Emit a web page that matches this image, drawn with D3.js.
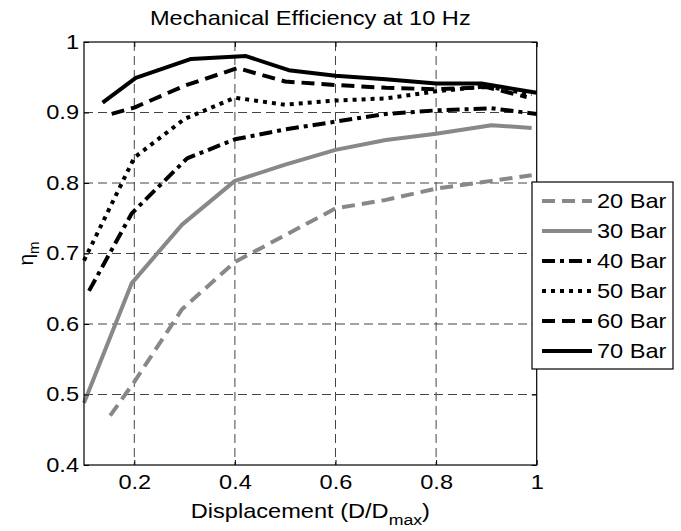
<!DOCTYPE html>
<html>
<head>
<meta charset="utf-8">
<script src="https://cdn.jsdelivr.net/npm/d3@7"></script>
<style>
  body { margin: 0; background: #fff; }
  svg text { font-family: "Liberation Sans", Arial, sans-serif; fill: #000; }
  .wide { transform-box: fill-box; transform: scaleX(1.18); }
  .wide-mid { transform-origin: center; }
  .wide-start { transform-origin: left center; }
  .wide-end { transform-origin: right center; }
</style>
</head>
<body>
<div id="chart"></div>
<script>
// Data
const seriesNames = ["20 Bar", "30 Bar", "40 Bar", "50 Bar", "60 Bar", "70 Bar"];

const x20 = [0.152, 0.2, 0.295, 0.4, 0.5, 0.6, 0.7, 0.8, 0.91, 0.99];
const y20 = [0.470, 0.518, 0.621, 0.688, 0.726, 0.764, 0.776, 0.792, 0.803, 0.811];

const x30 = [0.1, 0.195, 0.295, 0.4, 0.5, 0.6, 0.7, 0.8, 0.91, 0.99];
const y30 = [0.488, 0.658, 0.741, 0.803, 0.826, 0.847, 0.861, 0.870, 0.882, 0.878];

const x40 = [0.11, 0.195, 0.305, 0.4, 0.5, 0.6, 0.7, 0.8, 0.91, 1.0];
const y40 = [0.647, 0.757, 0.835, 0.862, 0.876, 0.887, 0.898, 0.903, 0.906, 0.898];

const x50 = [0.1, 0.2, 0.3, 0.4, 0.5, 0.6, 0.7, 0.8, 0.9, 0.99];
const y50 = [0.690, 0.836, 0.891, 0.921, 0.911, 0.917, 0.920, 0.930, 0.937, 0.926];

const x60 = [0.155, 0.2, 0.3, 0.405, 0.5, 0.6, 0.7, 0.8, 0.9, 0.98];
const y60 = [0.898, 0.907, 0.938, 0.963, 0.944, 0.939, 0.935, 0.933, 0.936, 0.922];

const x70 = [0.137, 0.203, 0.313, 0.422, 0.507, 0.6, 0.7, 0.8, 0.89, 1.0];
const y70 = [0.914, 0.949, 0.976, 0.980, 0.960, 0.952, 0.947, 0.941, 0.941, 0.928];

const xTicks = [0.2, 0.4, 0.6, 0.8, 1];
const xTickLabels = ["0.2", "0.4", "0.6", "0.8", "1"];
const yTicks = [0.4, 0.5, 0.6, 0.7, 0.8, 0.9, 1];
const yTickLabels = ["0.4", "0.5", "0.6", "0.7", "0.8", "0.9", "1"];

// line styles per series
const styles = {
  "20 Bar": { color: "#888888", dash: "13,7" },
  "30 Bar": { color: "#888888", dash: null },
  "40 Bar": { color: "#000000", dash: "13,5,4,5" },
  "50 Bar": { color: "#000000", dash: "4,5" },
  "60 Bar": { color: "#000000", dash: "13,7" },
  "70 Bar": { color: "#000000", dash: null }
};

const series = [
  { name: seriesNames[0], xs: x20, ys: y20 },
  { name: seriesNames[1], xs: x30, ys: y30 },
  { name: seriesNames[2], xs: x40, ys: y40 },
  { name: seriesNames[3], xs: x50, ys: y50 },
  { name: seriesNames[4], xs: x60, ys: y60 },
  { name: seriesNames[5], xs: x70, ys: y70 }
];

const width = 681, height = 531;
const margin = { top: 42, right: 144.3, bottom: 66, left: 84 };
const innerW = width - margin.left - margin.right;
const innerH = height - margin.top - margin.bottom;

const svg = d3.select("#chart").append("svg")
  .attr("width", width)
  .attr("height", height);

const g = svg.append("g")
  .attr("transform", `translate(${margin.left},${margin.top})`);

const x = d3.scaleLinear().domain([0.1, 1]).range([0, innerW]);
const y = d3.scaleLinear().domain([0.4, 1]).range([innerH, 0]);

// grid lines
g.append("g").selectAll("line")
  .data(xTicks.filter(d => d < 1))
  .join("line")
  .attr("x1", d => x(d)).attr("x2", d => x(d))
  .attr("y1", 0).attr("y2", innerH)
  .attr("stroke", "#444").attr("stroke-width", 1)
  .attr("stroke-dasharray", "9,5");

g.append("g").selectAll("line")
  .data(yTicks.filter(d => d > 0.4 && d < 1))
  .join("line")
  .attr("x1", 0).attr("x2", innerW)
  .attr("y1", d => y(d)).attr("y2", d => y(d))
  .attr("stroke", "#444").attr("stroke-width", 1)
  .attr("stroke-dasharray", "9,5");

// series lines
const line = d3.line()
  .x(d => x(d[0]))
  .y(d => y(d[1]));

g.append("g").selectAll("path")
  .data(series)
  .join("path")
  .attr("d", s => line(s.xs.map((v, i) => [v, s.ys[i]])))
  .attr("fill", "none")
  .attr("stroke", s => styles[s.name].color)
  .attr("stroke-width", 4)
  .attr("stroke-dasharray", s => styles[s.name].dash)
  .attr("stroke-linejoin", "round");

// axes
const xAxis = g.append("g")
  .attr("transform", `translate(0,${innerH})`)
  .call(d3.axisBottom(x).tickValues(xTicks)
    .tickFormat((d, i) => xTickLabels[i])
    .tickSizeInner(-5).tickSizeOuter(0).tickPadding(10));

const yAxis = g.append("g")
  .call(d3.axisLeft(y).tickValues(yTicks)
    .tickFormat((d, i) => yTickLabels[i])
    .tickSizeInner(-5).tickSizeOuter(0).tickPadding(5));

// top and right ticks
g.append("g")
  .call(d3.axisTop(x).tickValues(xTicks).tickFormat("")
    .tickSizeInner(-5).tickSizeOuter(0));
g.append("g")
  .attr("transform", `translate(${innerW},0)`)
  .call(d3.axisRight(y).tickValues(yTicks).tickFormat("")
    .tickSizeInner(-5).tickSizeOuter(0));

g.selectAll(".domain").remove();
g.selectAll(".tick line").attr("stroke", "#000");

xAxis.selectAll("text")
  .style("font-size", "20px")
  .attr("class", "wide wide-mid");
yAxis.selectAll("text")
  .style("font-size", "20px")
  .attr("class", "wide wide-end");

// frame
g.append("rect")
  .attr("width", innerW).attr("height", innerH)
  .attr("fill", "none").attr("stroke", "#000").attr("stroke-width", 1.2);

// title
svg.append("text")
  .attr("class", "wide wide-mid")
  .attr("x", margin.left + innerW / 2)
  .attr("y", 25)
  .attr("text-anchor", "middle")
  .style("font-size", "20px")
  .text("Mechanical Efficiency at 10 Hz");

// x label
const xl = svg.append("text")
  .attr("class", "wide wide-mid")
  .attr("x", margin.left + innerW / 2)
  .attr("y", 518)
  .attr("text-anchor", "middle")
  .style("font-size", "20px");
xl.append("tspan").text("Displacement (D/D");
xl.append("tspan").attr("dy", 7).style("font-size", "15px").text("max");
xl.append("tspan").attr("dy", -7).text(")");

// y label
const yl = svg.append("text")
  .attr("transform", `translate(33,${margin.top + innerH / 2}) rotate(-90)`)
  .attr("text-anchor", "middle")
  .style("font-size", "21px");
yl.append("tspan").text("\u03b7");
yl.append("tspan").attr("dy", 6).style("font-size", "15px").text("m");

// legend
const legend = svg.append("g").attr("transform", "translate(532,182)");
legend.append("rect")
  .attr("width", 141).attr("height", 187)
  .attr("fill", "#fff").attr("stroke", "#000").attr("stroke-width", 1.2);

const rowY = d3.scaleLinear().domain([0, seriesNames.length - 1]).range([19, 169]);

const items = legend.selectAll(".item")
  .data(seriesNames)
  .join("g")
  .attr("class", "item")
  .attr("transform", (d, i) => `translate(0,${rowY(i)})`);

items.append("line")
  .attr("x1", 10).attr("x2", 60)
  .attr("stroke", d => styles[d].color)
  .attr("stroke-width", 4)
  .attr("stroke-dasharray", d => styles[d].dash);

items.append("text")
  .attr("class", "wide wide-start")
  .attr("x", 65)
  .attr("dy", "0.35em")
  .style("font-size", "20px")
  .text(d => d);
</script>
</body>
</html>
